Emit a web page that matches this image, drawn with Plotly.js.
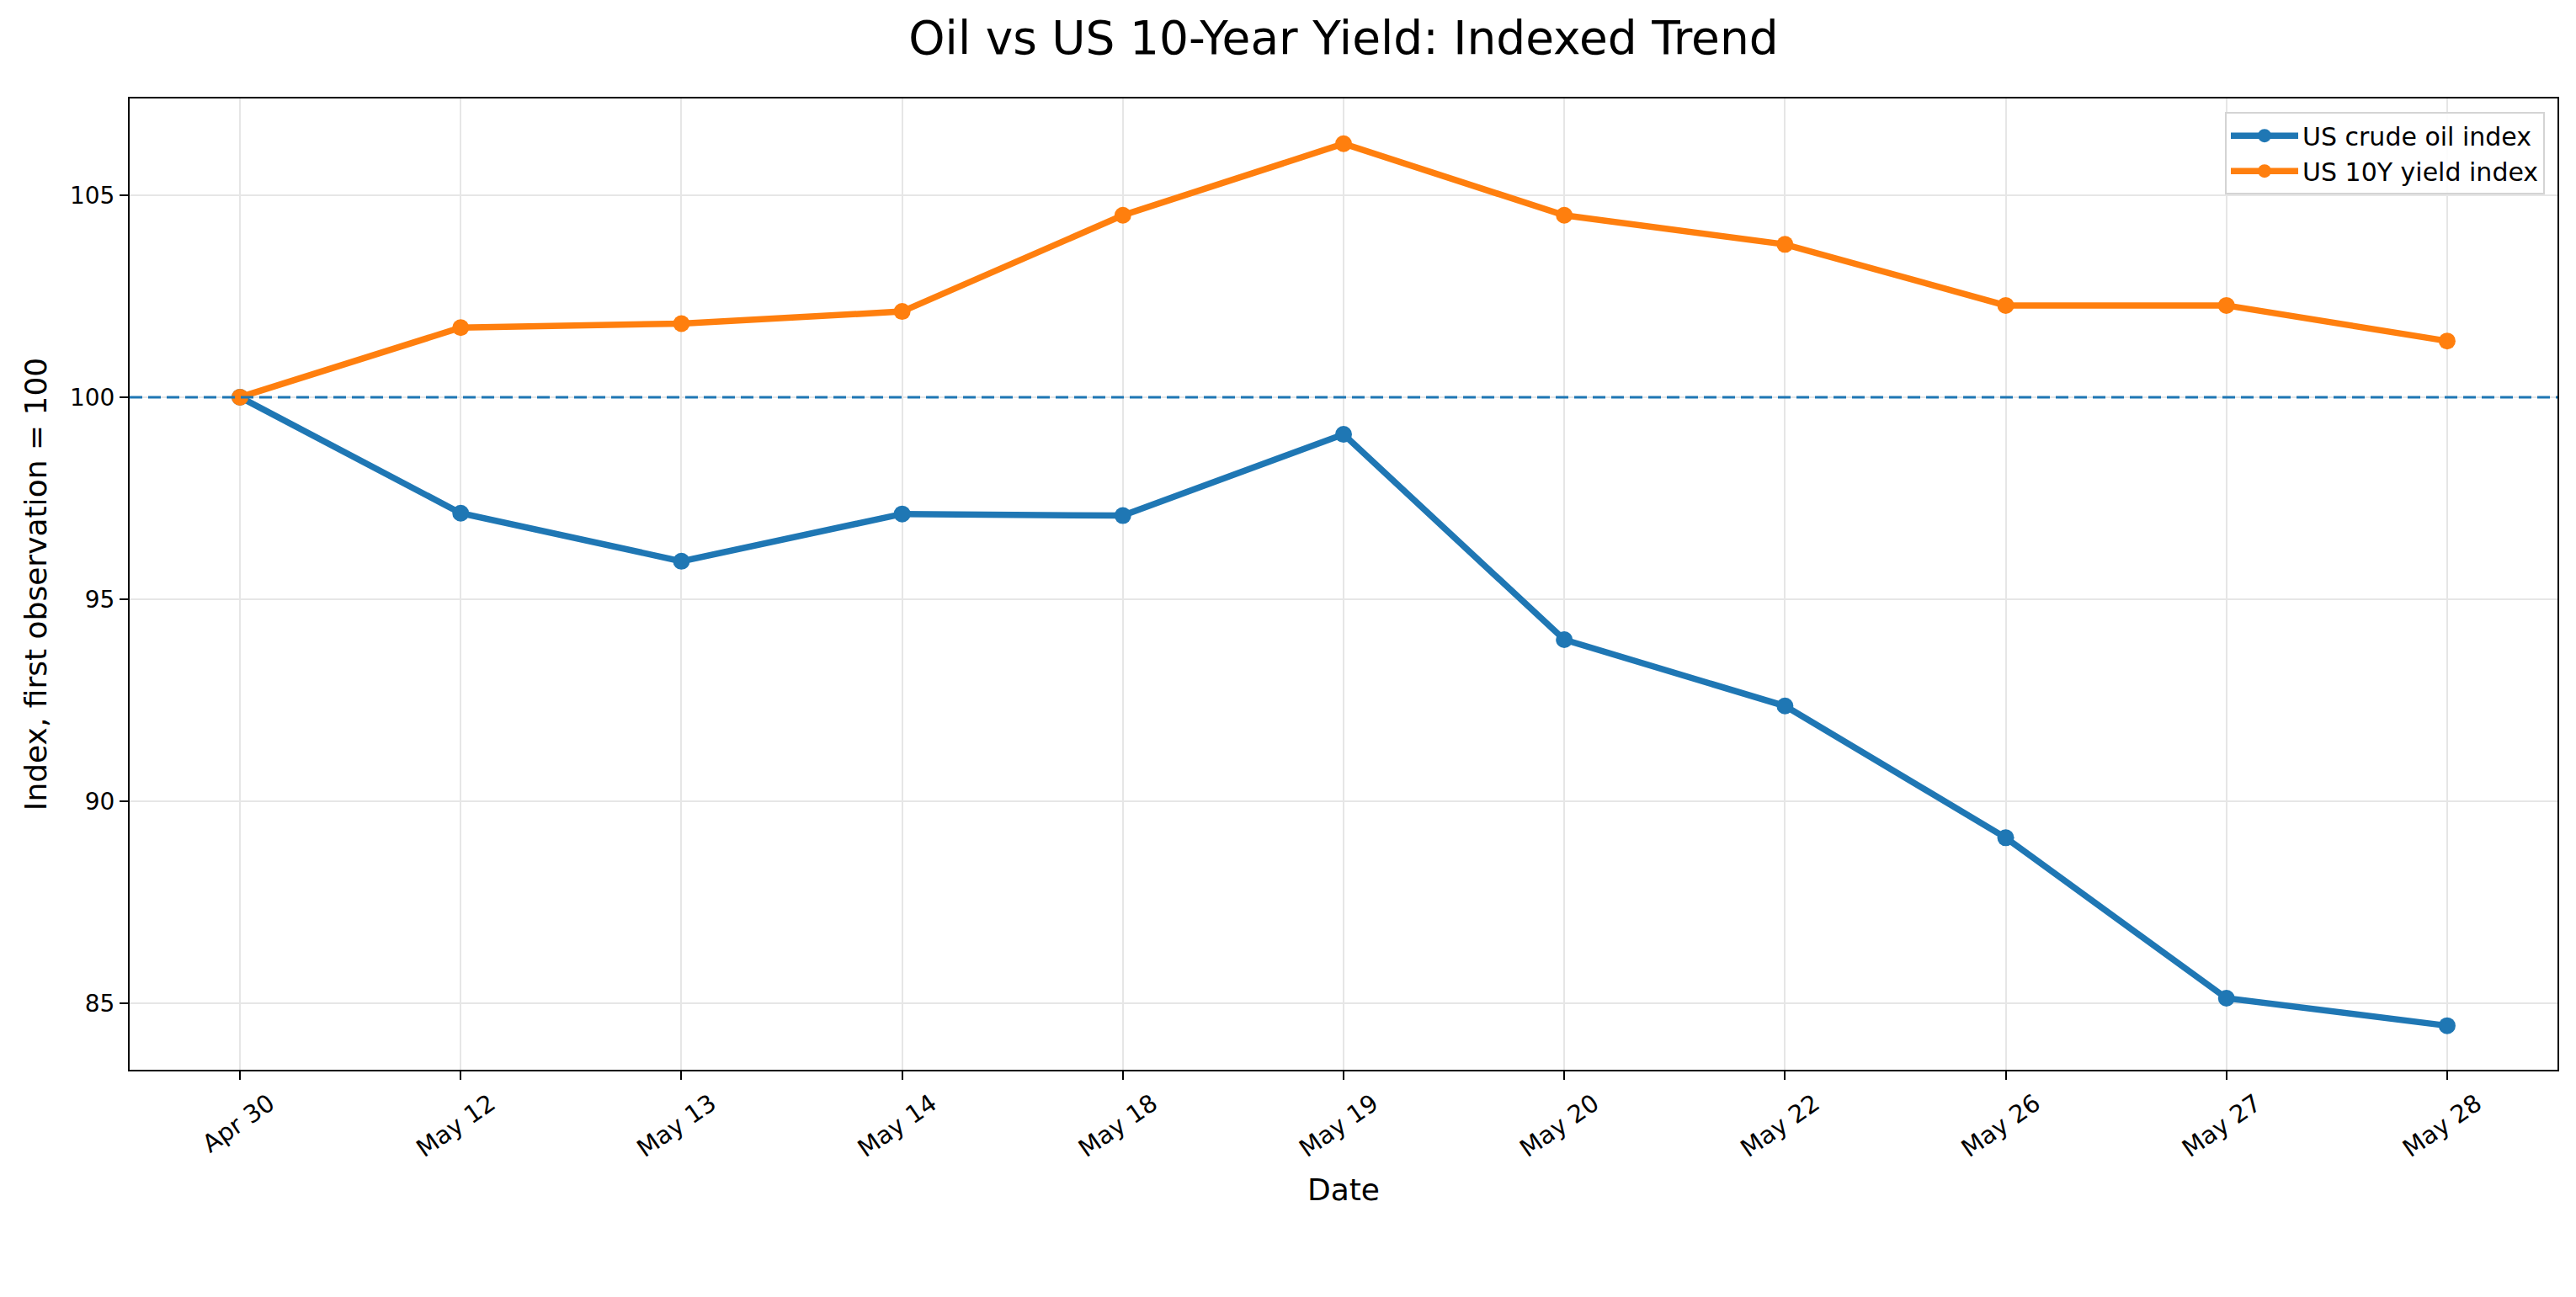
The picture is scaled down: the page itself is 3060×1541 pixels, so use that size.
<!DOCTYPE html>
<html>
<head>
<meta charset="utf-8">
<script src="https://cdn.plot.ly/plotly-3.0.1.min.js"></script>
<style>
  html, body { margin: 0; padding: 0; background: #ffffff; }
  #chart { width: 3060px; height: 1541px; }
</style>
</head>
<body>
<div id="chart"></div>
<script>
// Trading days shown on the category axis
const dates = ["Apr 30", "May 12", "May 13", "May 14", "May 18", "May 19",
               "May 20", "May 22", "May 26", "May 27", "May 28"];

// Both series rebased so the first observation equals 100
const oilIndex = [100, 97.13, 95.94, 97.11, 97.07, 99.08, 94.00, 92.36, 89.10, 85.13, 84.45];
const yieldIndex = [100, 101.72, 101.82, 102.12, 104.50, 106.27, 104.50, 103.78, 102.27, 102.27, 101.39];

const baseline = 100;
const yTicks = [85, 90, 95, 100, 105];

const BLUE = "#1f77b4";
const ORANGE = "#ff7f0e";
const FONT = "DejaVu Sans, Verdana, sans-serif";

const traces = [
  {
    type: "scatter",
    mode: "lines+markers",
    name: "US crude oil index",
    x: dates,
    y: oilIndex,
    line: { color: BLUE, width: 7.5 },
    marker: { color: BLUE, size: 20 }
  },
  {
    type: "scatter",
    mode: "lines+markers",
    name: "US 10Y yield index",
    x: dates,
    y: yieldIndex,
    line: { color: ORANGE, width: 7.5 },
    marker: { color: ORANGE, size: 20 }
  }
];

const layout = {
  width: 3060,
  height: 1541,
  paper_bgcolor: "#ffffff",
  plot_bgcolor: "#ffffff",
  font: { family: FONT, color: "#000000", size: 28 },
  margin: { l: 154, r: 22, t: 117, b: 270, pad: 0 },
  title: {
    text: "Oil vs US 10-Year Yield: Indexed Trend",
    font: { family: FONT, size: 55, color: "#000000" },
    xref: "paper",
    x: 0.5,
    xanchor: "center",
    y: 0.971,
    yanchor: "middle",
    yref: "container"
  },
  xaxis: {
    type: "category",
    range: [-0.5, dates.length - 0.5],
    showline: true,
    mirror: true,
    linecolor: "#000000",
    linewidth: 2,
    ticks: "outside",
    ticklen: 10,
    tickwidth: 2,
    tickcolor: "#000000",
    tickangle: -35,
    ticklabelshift: 35,
    tickfont: { family: FONT, size: 29, color: "#000000" },
    showgrid: true,
    gridcolor: "#e6e6e6",
    gridwidth: 2,
    zeroline: false,
    title: { text: "Date", font: { family: FONT, size: 36, color: "#000000" }, standoff: 20 }
  },
  yaxis: {
    range: [83.36, 107.39],
    tickvals: yTicks,
    ticktext: yTicks.map(String),
    showline: true,
    mirror: true,
    linecolor: "#000000",
    linewidth: 2,
    ticks: "outside",
    ticklen: 10,
    tickwidth: 2,
    tickcolor: "#000000",
    tickfont: { family: FONT, size: 28, color: "#000000" },
    showgrid: true,
    gridcolor: "#e6e6e6",
    gridwidth: 2,
    zeroline: false,
    title: { text: "Index, first observation = 100", font: { family: FONT, size: 36, color: "#000000" }, standoff: 16 }
  },
  shapes: [
    {
      // dashed reference line at the rebasing level
      type: "line",
      xref: "paper",
      x0: 0,
      x1: 1,
      yref: "y",
      y0: baseline,
      y1: baseline,
      layer: "above",
      opacity: 1,
      line: { color: BLUE, width: 3, dash: "15px,7px" }
    }
  ],
  showlegend: true,
  legend: {
    x: 0.9948,
    xanchor: "right",
    y: 0.986,
    yanchor: "top",
    bgcolor: "rgba(255,255,255,0.85)",
    bordercolor: "#d4d4d4",
    borderwidth: 2,
    itemwidth: 80,
    font: { family: FONT, size: 30, color: "#000000" },
    tracegroupgap: 0
  }
};

Plotly.newPlot("chart", traces, layout, { displayModeBar: false, staticPlot: true });
</script>
</body>
</html>
